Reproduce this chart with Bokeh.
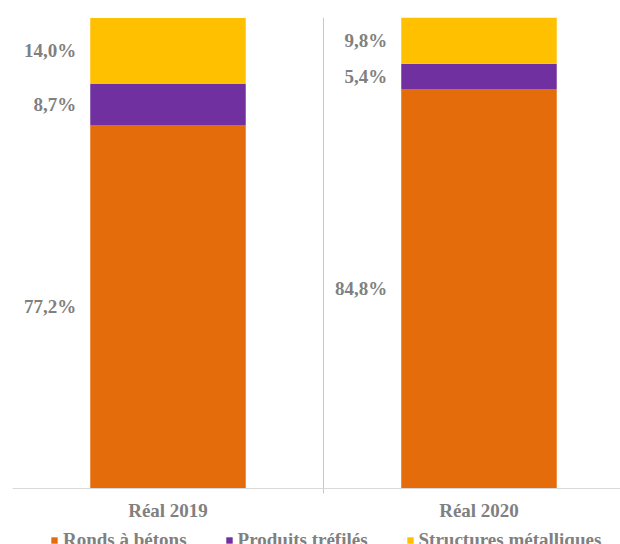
from bokeh.plotting import figure
from bokeh.models import ColumnDataSource, Range1d, FixedTicker, Legend, LegendItem, Span
from bokeh.core.properties import value
from bokeh.embed import file_html
from bokeh.resources import INLINE

# ---- data ----
categories = ["Réal 2019", "Réal 2020"]
series = ["Ronds à bétons", "Produits tréfilés", "Structures métalliques"]
ronds = [77.2, 84.8]
produits = [8.7, 5.4]
structures = [14.0, 9.8]
colors = ["#E46C0A", "#7030A0", "#FFC000"]

xpos = list(range(len(categories)))
bar_width = 0.5
source = ColumnDataSource(dict(x=xpos, ronds=ronds, produits=produits, structures=structures))

TEXT = "#808080"
FONT = "Liberation Serif"

# frame spans the whole lower area so the (cropped) legend can sit inside it;
# value 0 lands 56 px above the bottom edge
p = figure(width=620, height=544,
           x_range=Range1d(-0.5, 1.455), y_range=Range1d(-11.89, 100),
           output_backend="svg", toolbar_location=None,
           min_border_left=12, min_border_right=0, min_border_top=17, min_border_bottom=0,
           x_axis_location=None, y_axis_location=None)
p.outline_line_color = None
p.background_fill_color = "white"

renderers = p.vbar_stack(["ronds", "produits", "structures"], x="x", width=bar_width,
                         fill_color=colors, line_color=None, source=source)

# data labels, left of each segment
lx, ly, lt = [], [], []
for i in xpos:
    base = 0.0
    for vals in (ronds, produits, structures):
        v = vals[i]
        lx.append(i - bar_width / 2)
        ly.append(base + v / 2)
        lt.append(f"{v:.1f}%".replace(".", ","))
        base += v
p.text(x=lx, y=ly, text=lt, x_offset=-14, text_align="right", text_baseline="middle",
       text_font=value(FONT), text_font_style="bold", text_font_size="19px", text_color=TEXT)

# category axis: baseline, boundary lines/ticks, category labels
p.ygrid.visible = False
p.xgrid.ticker = FixedTicker(ticks=[-0.5, 0.5, 1.5])
p.xgrid.grid_line_color = "#C8C8C8"
p.xgrid.cross_bounds = (-1.06, 100)
p.add_layout(Span(location=0, dimension="width", line_color="#D9D9D9", line_width=1))
p.text(x=xpos, y=[0] * len(xpos), text=categories, y_offset=22,
       text_align="center", text_baseline="alphabetic",
       text_font=value(FONT), text_font_style="bold", text_font_size="19px", text_color=TEXT)

legend = Legend(items=[LegendItem(label=s, renderers=[r]) for s, r in zip(series, renderers)],
                orientation="horizontal", location=(38, -7), padding=0, margin=0, spacing=38,
                glyph_width=8, glyph_height=8, label_standoff=5,
                border_line_color=None, background_fill_alpha=0,
                label_text_font=FONT, label_text_font_style="bold",
                label_text_font_size="19px", label_text_color=TEXT)
p.add_layout(legend, "center")

open("out.html", "w").write(file_html(p, INLINE))
